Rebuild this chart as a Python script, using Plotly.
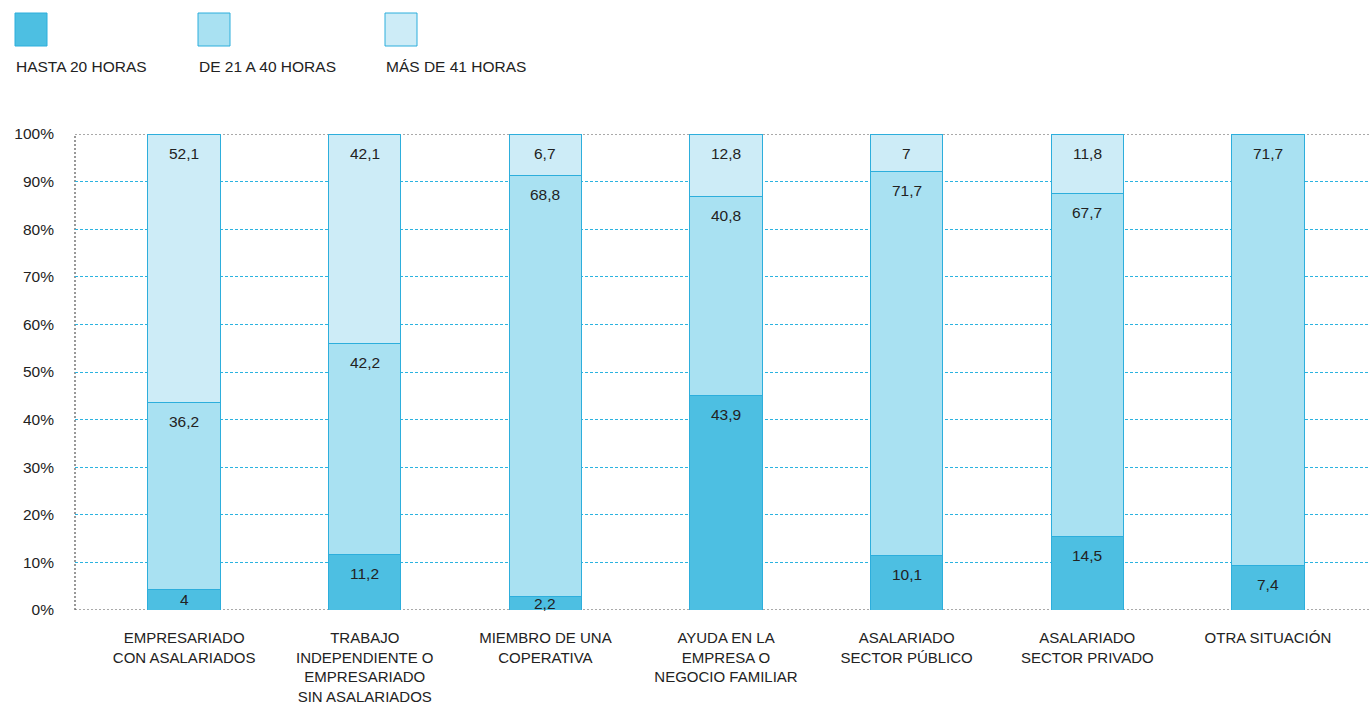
import plotly.graph_objects as go
import numpy as np

categories = [
    "EMPRESARIADO<br>CON ASALARIADOS",
    "TRABAJO<br>INDEPENDIENTE O<br>EMPRESARIADO<br>SIN ASALARIADOS",
    "MIEMBRO DE UNA<br>COPERATIVA",
    "AYUDA EN LA<br>EMPRESA O<br>NEGOCIO FAMILIAR",
    "ASALARIADO<br>SECTOR PÚBLICO",
    "ASALARIADO<br>SECTOR PRIVADO",
    "OTRA SITUACIÓN",
]
series_names = ["HASTA 20 HORAS", "DE 21 A 40 HORAS", "MÁS DE 41 HORAS"]
hasta20 = [4, 11.2, 2.2, 43.9, 10.1, 14.5, 7.4]
de21a40 = [36.2, 42.2, 68.8, 40.8, 71.7, 67.7, 71.7]
mas41 = [52.1, 42.1, 6.7, 12.8, 7, 11.8, None]
y_ticks = [0, 10, 20, 30, 40, 50, 60, 70, 80, 90, 100]
y_tick_labels = [f"{t}%" for t in y_ticks]

colors = ["#4dbfe2", "#a9e1f2", "#cdecf7"]
edge = "#2daedc"
FONT = "Liberation Sans, Arial, sans-serif"
TXT = "#222222"
FS = 15.5

series = [hasta20, de21a40, mas41]
fig = go.Figure()
for name, vals, col in zip(series_names, series, colors):
    fig.add_trace(go.Bar(
        x=categories, y=vals, name=name, width=0.4,
        marker=dict(color=col, line=dict(color=edge, width=1)),
        showlegend=False, hoverinfo="x+y+name",
    ))

# value labels, placed through data coordinates (normalized to 100%)
arr = np.array([[v if v is not None else 0 for v in s] for s in series], dtype=float)
totals = arr.sum(axis=0)
cum = np.cumsum(arr, axis=0) / totals * 100
for si, s in enumerate(series):
    for ci, v in enumerate(s):
        if v is None:
            continue
        top = cum[si, ci]
        bottom = cum[si - 1, ci] if si > 0 else 0.0
        if top - bottom < 7:
            y, shift = (top + bottom) / 2, 0
        else:
            y, shift = top, -19
        fig.add_annotation(
            x=categories[ci], y=y, yshift=shift, text=f"{v:g}".replace(".", ","),
            showarrow=False, xanchor="center", yanchor="middle",
            font=dict(family=FONT, size=FS, color=TXT),
        )

# plot geometry helpers for legend placement
L, R, T, B = 75, 0, 134, 95
W, H = 1370 - L - R, 705 - T - B
def px(x):
    return (x - L) / W
def py(y):
    return (705 - B - y) / H

for name, col, x0 in zip(series_names, colors, [15, 198, 385]):
    fig.add_shape(type="rect", xref="paper", yref="paper",
                  x0=px(x0), x1=px(x0 + 32), y0=py(46), y1=py(13),
                  fillcolor=col, line=dict(color=edge, width=1))
    fig.add_annotation(xref="paper", yref="paper", x=px(x0 - 1), y=py(66),
                       text=name, showarrow=False, xanchor="left", yanchor="middle",
                       font=dict(family=FONT, size=FS, color=TXT))

# dark dotted frame lines (0%, 100%, y-axis)
gray = dict(color="#555555", width=1.2, dash="2px,2px")
fig.add_shape(type="line", xref="paper", yref="y", x0=0, x1=1, y0=100, y1=100, line=gray, layer="below")
fig.add_shape(type="line", xref="paper", yref="y", x0=0, x1=1, y0=0, y1=0, line=gray, layer="below")
fig.add_shape(type="line", xref="paper", yref="paper", x0=0, x1=0, y0=0, y1=1, line=gray, layer="below")

fig.update_layout(
    barmode="stack", barnorm="percent",
    width=1370, height=705,
    margin=dict(l=L, r=R, t=T, b=B),
    paper_bgcolor="white", plot_bgcolor="white",
    font=dict(family=FONT, size=FS, color=TXT),
    xaxis=dict(range=[-0.604, 6.565], showgrid=False, zeroline=False, showline=False,
               tickfont=dict(family=FONT, size=15, color=TXT), ticks="",
               ticklabelstandoff=17, automargin=False),
    yaxis=dict(range=[0, 100], tickmode="array", tickvals=y_ticks, ticktext=y_tick_labels,
               showgrid=True, gridcolor="#2bb3e0", gridwidth=1,
               griddash="3px,2px", zeroline=False, showline=False, ticks="",
               tickfont=dict(family=FONT, size=FS, color=TXT), ticklabelstandoff=20,
               automargin=False),
)

fig.write_html("out.html", config={"displayModeBar": False},
               post_script="document.body.style.margin='0';")
